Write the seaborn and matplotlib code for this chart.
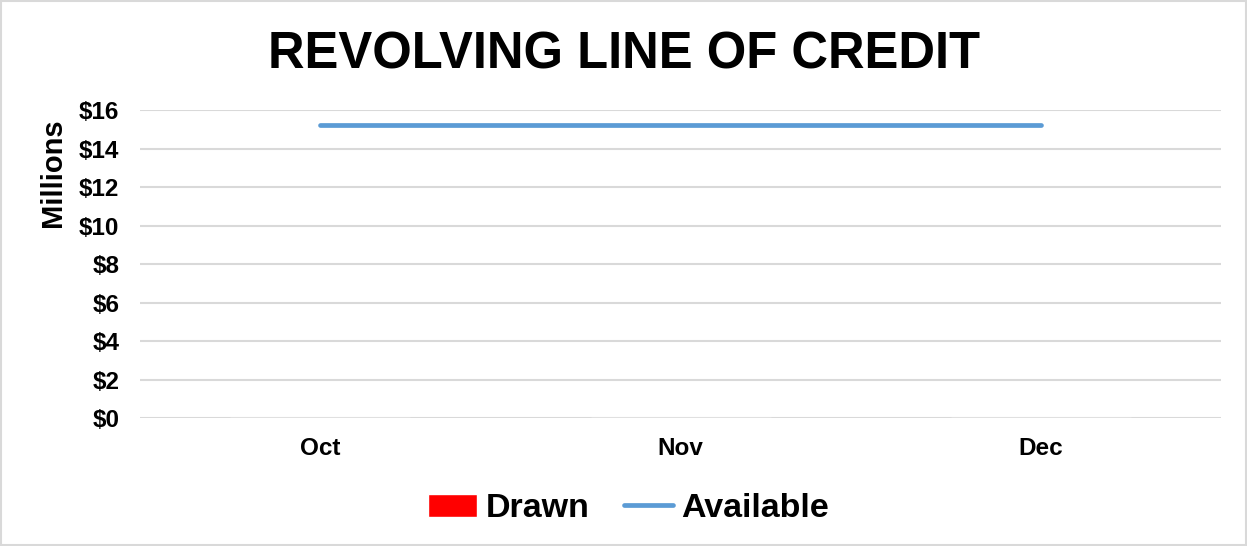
import pandas as pd
import numpy as np
import matplotlib
matplotlib.use("Agg")
import matplotlib.pyplot as plt
import seaborn as sns
from matplotlib.patches import Rectangle
from matplotlib.ticker import FuncFormatter

months = ["Oct", "Nov", "Dec"]
drawn = [0.0, 0.0, 0.0]
available = [15.2, 15.2, 15.2]
yticks = [0, 2, 4, 6, 8, 10, 12, 14, 16]

df = pd.DataFrame({"Month": months, "Drawn": drawn, "Available": available})

sns.set_style("white")
plt.rcParams["font.family"] = ["Liberation Sans", "DejaVu Sans"]
plt.rcParams["text.color"] = "black"
plt.rcParams["xtick.color"] = "black"
plt.rcParams["ytick.color"] = "black"
plt.rcParams["axes.labelcolor"] = "black"

fig = plt.figure(figsize=(12.47, 5.46), dpi=100)
ax = fig.add_axes([0.1123, 0.2344, 0.8670, 0.5641])

sns.barplot(data=df, x="Month", y="Drawn", color="#FF0000", label="Drawn",
            width=0.5, saturation=1, ax=ax)
sns.lineplot(data=df, x="Month", y="Available", color="#5B9BD5", linewidth=3.4,
             label="Available", ax=ax, solid_capstyle="round")

ax.set_ylim(0, 16)
ax.set_xlim(-0.5, 2.5)
ax.set_yticks(yticks)
ax.yaxis.set_major_formatter(FuncFormatter(lambda v, p: f"${v:.0f}"))
ax.grid(axis="y", color="#D9D9D9", linewidth=1.5)
ax.set_axisbelow(True)
for s in ax.spines.values():
    s.set_visible(False)
ax.tick_params(axis="both", length=0, labelsize=17.5)
ax.tick_params(axis="y", pad=15)
ax.tick_params(axis="x", pad=14)
for t in ax.get_xticklabels() + ax.get_yticklabels():
    t.set_fontweight("bold")
ax.set_xlabel("")
ax.set_ylabel("Millions", fontsize=21, fontweight="bold")
ax.yaxis.set_label_coords(-0.068, 0.795)

fig.suptitle("REVOLVING LINE OF CREDIT", fontsize=36.5, fontweight="bold",
             x=0.5, y=0.899, va="center")

handles, labels = ax.get_legend_handles_labels()
order = [labels.index("Drawn"), labels.index("Available")]
ax.legend([handles[i] for i in order], [labels[i] for i in order],
          loc="center", bbox_to_anchor=(0.452, -0.295), ncol=2,
          frameon=False, prop={"size": 24.5, "weight": "bold"},
          handlelength=1.45, handletextpad=0.25, columnspacing=1.0)

fig.patches.append(Rectangle((0.001, 0.001), 0.998, 0.998, transform=fig.transFigure,
                             fill=False, edgecolor="#D9D9D9", linewidth=1.5))

fig.savefig("out.png", dpi=100, facecolor="white")
